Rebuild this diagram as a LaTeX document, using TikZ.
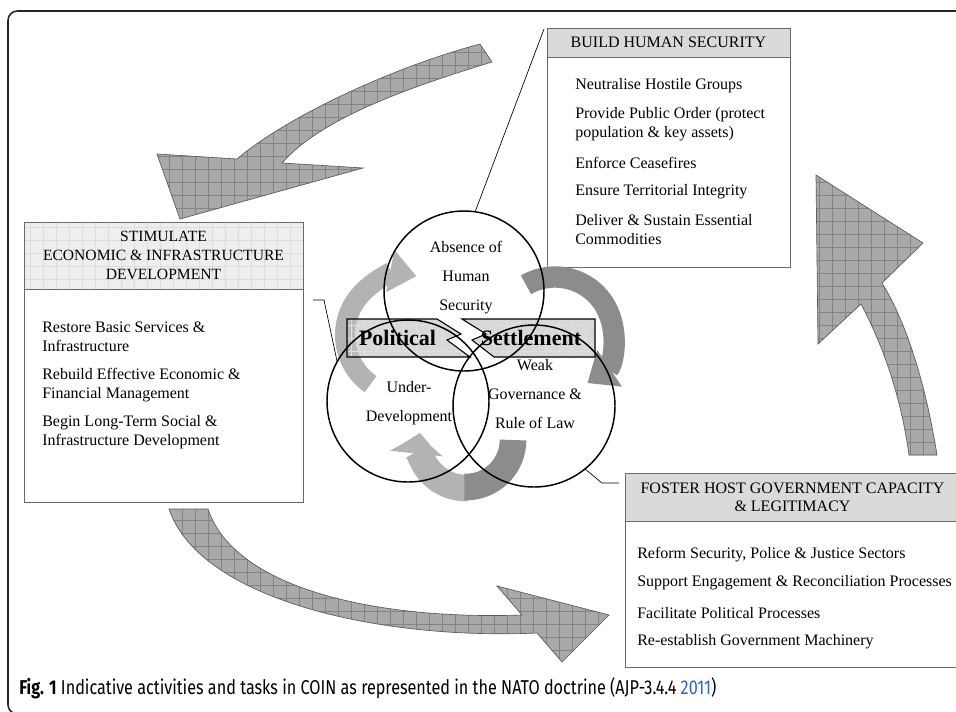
\documentclass[tikz,border=0pt]{standalone}
\usepackage{fontspec}
\setmainfont{Liberation Serif}
\newfontfamily\capfont[FakeStretch=0.81]{Fira Sans}
\usetikzlibrary{arrows.meta}
\definecolor{hatchfill}{HTML}{A9A9A9}
\definecolor{hatchline}{HTML}{838383}
\definecolor{hatchedge}{HTML}{5A5A5A}
\definecolor{lightarr}{HTML}{B3B3B3}
\definecolor{darkarr}{HTML}{8C8C8C}
\definecolor{headgray}{HTML}{DADADA}
\definecolor{headlight}{HTML}{EEEEEE}
\definecolor{headgrid}{HTML}{DDDDDD}
\definecolor{boxedge}{HTML}{6A6A6A}
\definecolor{linkblue}{HTML}{2A64C8}
\begin{document}
\begin{tikzpicture}[x=0.75pt,y=-0.75pt,
  hatched/.style={fill=hatchfill, draw=hatchedge, line width=0.5pt,
    path picture={\draw[hatchline, line width=0.35pt, step=9.75pt]
      (path picture bounding box.south west) grid (path picture bounding box.north east);}},
  banner/.style={fill=gray!50, fill opacity=0.6, draw=black, draw opacity=1, line width=0.8pt,
    path picture={\draw[gray!25, line width=0.35pt, step=9.75pt]
      (path picture bounding box.south west) grid (path picture bounding box.north east);}},
  bodybox/.style={draw=boxedge, fill=white, line width=0.7pt, inner sep=0pt, outer sep=0pt},
  headbox/.style={draw=boxedge, line width=0.7pt, inner sep=0pt, outer sep=0pt, align=center,
    font=\fontsize{12pt}{14pt}\selectfont},
  item/.style={anchor=west, inner sep=0pt, align=left, font=\fontsize{12pt}{14.25pt}\selectfont},
  ring/.style={circle, draw=black, line width=1.1pt, inner sep=0pt, outer sep=0pt},
  ringtext/.style={inner sep=0pt, align=center, font=\fontsize{12pt}{21.75pt}\selectfont},
  bigword/.style={inner sep=0pt, font=\bfseries\fontsize{16.5pt}{18pt}\selectfont},
  link/.style={draw=black, line width=0.5pt}
]
\useasboundingbox (0,0) rectangle (956,711);
\fill[white] (0,0) rectangle (956,711);
% frame
\draw[line width=1.2pt, black!85, rounded corners=7pt] (960,11) -- (8,11) -- (8,714) -- (960,714);

% big hatched arrows
\path[hatched] (480,44) -- (492,62) .. controls (400,90) and (320,120) .. (282,163)
  -- (363,168) -- (180,219) -- (157,154) -- (237,159)
  .. controls (285,118) and (390,68) .. (480,44) -- cycle;
\path[hatched] (169,509) -- (208,509) .. controls (235,590) and (380,620) .. (522,615)
  -- (497,586) -- (609,615) -- (562,662) -- (537,633)
  .. controls (380,640) and (200,600) .. (169,509) -- cycle;
\path[hatched] (909,455) -- (937,455) .. controls (925,380) and (905,320) .. (882,283)
  -- (923,243) -- (816,175) -- (818,344) -- (861,304)
  .. controls (880,340) and (900,390) .. (909,455) -- cycle;

% boxes
\node[bodybox, minimum width=182.25pt, minimum height=157.5pt, anchor=north west] (hsBody) at (547,57) {};
\node[headbox, fill=headgray, minimum width=182.25pt, minimum height=21.75pt, anchor=north west] (hsHead) at (547,28) {BUILD HUMAN SECURITY};
\node[item] (hs1) at (575,86) {Neutralise Hostile Groups};
\node[item] (hs2) at (575,124.5) {Provide Public Order (protect\\population \& key assets)};
\node[item] (hs3) at (575,163) {Enforce Ceasefires};
\node[item] (hs4) at (575,192) {Ensure Territorial Integrity};
\node[item] (hs5) at (575,229.5) {Deliver \& Sustain Essential\\Commodities};

\node[bodybox, minimum width=209.25pt, minimum height=159.75pt, anchor=north west] (ecBody) at (24,289) {};
\node[headbox, fill=headlight, minimum width=209.25pt, minimum height=50.25pt, anchor=north west,
  path picture={\draw[headgrid, line width=0.35pt, step=9.75pt]
      (path picture bounding box.south west) grid (path picture bounding box.north east);},
  font=\fontsize{11.7pt}{14.25pt}\selectfont] (ecHead) at (24,222) {STIMULATE\\ECONOMIC \& INFRASTRUCTURE\\DEVELOPMENT};
\node[item] (ec1) at (42,336.5) {Restore Basic Services \&\\Infrastructure};
\node[item] (ec2) at (42,385.5) {Rebuild Effective Economic \&\\Financial Management};
\node[item] (ec3) at (42,432.5) {Begin Long-Term Social \&\\Infrastructure Development};

\node[bodybox, minimum width=251.25pt, minimum height=109.5pt, anchor=north west] (fhBody) at (625,521) {};
\node[headbox, fill=headgray, minimum width=251.25pt, minimum height=36pt, anchor=north west,
  font=\fontsize{12pt}{13.5pt}\selectfont] (fhHead) at (625,473) {FOSTER HOST GOVERNMENT CAPACITY\\\& LEGITIMACY};
\node[item] (fh1) at (637,555) {Reform Security, Police \& Justice Sectors};
\node[item] (fh2) at (637,583) {Support Engagement \& Reconciliation Processes};
\node[item] (fh3) at (637,613) {Facilitate Political Processes};
\node[item] (fh4) at (637,642) {Re-establish Government Machinery};

% small cycle arrows
\coordinate (cycL) at (405,335);
\coordinate (cycR) at (555,335);
\coordinate (cycU) at (466,440);
\draw[lightarr, line width=15pt, -{Triangle[length=20pt,width=31pt]}]
  ([shift={(125:60)}]cycL) arc[start angle=125, end angle=281, radius=60];
\draw[darkarr, line width=16pt, -{Triangle[length=20pt,width=32pt]}]
  ([shift={(240:58)}]cycR) arc[start angle=240, end angle=416, radius=58];
\draw[lightarr, line width=20pt, -{Triangle[length=14pt,width=39pt]}]
  ([shift={(88:48)}]cycU) arc[start angle=88, end angle=186, radius=48];
\draw[darkarr, line width=20pt]
  ([shift={(0:47)}]cycU) arc[start angle=0, end angle=92, radius=47];

% political settlement banner
\path[banner] (347,319) -- (437,319) -- (461,334) -- (447,340) -- (470,357) -- (347,357) -- cycle;
\path[banner] (595,319) -- (462,319) -- (486,334) -- (472,340) -- (494,357) -- (595,357) -- cycle;

% circles
\node[ring, minimum size=120pt] (cA) at (464,291) {};
\node[ring, minimum size=121.5pt] (cB) at (408,401) {};
\node[ring, minimum size=121.5pt] (cC) at (534,406) {};

\node[ringtext] (tA) at (466,278) {Absence of\\Human\\Security};
\node[ringtext] (tB) at (409,403.5) {Under-\\Development};
\node[ringtext] (tC) at (535,394) {Weak\\Governance \&\\Rule of Law};
\node[bigword] (pol) at (397.5,338) {Political};
\node[bigword] (set) at (531,338) {Settlement};

% connectors
\coordinate (hsLink) at (544,29);
\draw[link] (hsLink) -- (cA.82);
\coordinate (ecLink) at (313,300);
\coordinate (ecBend) at (324,300);
\draw[link] (ecLink) -- (ecBend) -- (cB.151);
\coordinate (fhBend) at (602,483);
\coordinate (fhLink) at (619,483);
\draw[link] (cC.-51) -- (fhBend) -- (fhLink);

% caption
\node[anchor=west, inner sep=0pt, font=\capfont\fontsize{15pt}{17pt}\selectfont] (cap) at (19,688)
  {\textbf{Fig. 1} Indicative activities and tasks in COIN as represented in the NATO doctrine (AJP-3.4.4 \textcolor{linkblue}{2011})};
\end{tikzpicture}
\end{document}
